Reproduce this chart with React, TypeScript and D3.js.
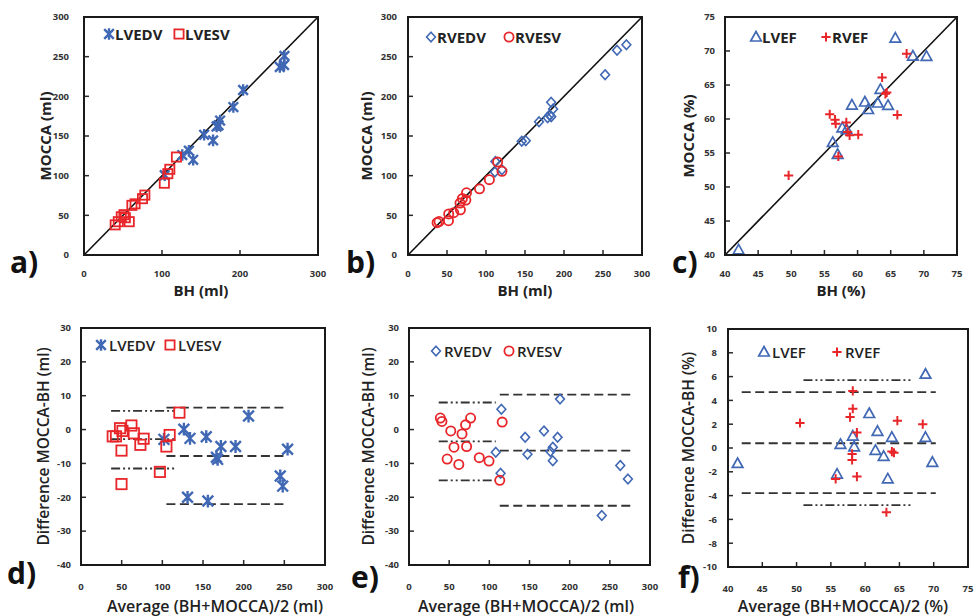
import * as d3 from "d3";

type Pt = [number, number];

// a) LV volumes: BH (x) vs MOCCA (y), ml
const lvedvCorr: Pt[] = [[103.5,100.5],[126,126],[134.5,131.5],[140,120],[154,151.5],[165.5,144.5],[170,162],[172.5,163.5],[174.5,169.5],[191.5,186.5],[204,208],[251,237],[256.5,239.5],[257,251]];
const lvesvCorr: Pt[] = [[40,38],[44,42],[47.8,48.2],[51.2,50.8],[53,47],[58,42],[61.4,62.6],[65.5,64.5],[75,71],[78,75.5],[103,90.5],[107.5,102.5],[110,108],[118.5,123.5]];

// b) RV volumes
const rvedvCorr: Pt[] = [[111.4,104.7],[112,118],[120.5,107.5],[145.8,143.5],[151,144],[168,168],[179,173],[181.6,176.4],[183.6,174.4],[186,184],[183.5,192.5],[252.7,227.3],[268,258],[280,265]];
const rvesvCorr: Pt[] = [[37.3,40.7],[39.8,42.2],[52.2,51.8],[51.9,43.2],[58.6,53.4],[67.2,56.9],[66.7,65.4],[69.7,71.1],[74.2,69.2],[75,78.4],[91.7,83.4],[104.3,95],[120.5,105.5],[114.9,117.1]];

// c) ejection fractions, %
const lvefCorr: Pt[] = [[42.05,40.75],[57,54.8],[56.25,56.55],[57.7,58.7],[58.35,58.45],[59.15,62.05],[61.6,61.4],[61.1,62.5],[63.05,62.35],[64.6,62],[63.45,64.35],[65.7,71.9],[68.35,69.25],[70.4,69.2]];
const rvefCorr: Pt[] = [[49.6,51.7],[55.8,60.7],[56.6,59.9],[56.7,59.3],[57.1,54.5],[58.3,59.5],[58.5,58.1],[58.8,57.6],[60.1,57.7],[63.7,66.1],[64.2,63.7],[64.4,63.9],[66,60.6],[67.4,69.6]];

// d-f) Bland-Altman: average (x) vs difference (y)
const lvedvBA: Pt[] = [[102,-2.9],[126.5,0.1],[134,-2.6],[131,-20],[154,-2.1],[156,-21.1],[166.5,-8.2],[168,-8.8],[172,-5],[190,-5],[206,4],[245,-13.7],[248,-16.7],[254,-5.8]];
const lvesvBA: Pt[] = [[39,-2],[43,-2],[48,0.4],[51,-0.4],[49.8,-6.2],[49.8,-16.1],[62,1.2],[65,-1.1],[73,-4.5],[77,-2.7],[97,-12.5],[105,-5],[109,-1.6],[121,5]];
const rvedvBA: Pt[] = [[108,-6.7],[115,6],[114,-12.9],[144.6,-2.3],[147.5,-7.3],[168,-0.4],[176,-6.5],[179,-5.2],[179,-9.2],[185,-2.3],[188,9],[240,-25.4],[263,-10.6],[272.5,-14.6]];
const rvesvBA: Pt[] = [[39,3.4],[41,2.4],[52,-0.4],[47.5,-8.7],[56,-5.2],[62,-10.3],[66,-1.3],[70.4,1.4],[71.7,-5],[76.7,3.4],[87.5,-8.3],[99.6,-9.3],[113,-15],[116,2.2]];
const lvefBA: Pt[] = [[41.4,-1.3],[55.9,-2.2],[56.4,0.3],[58.2,1],[58.4,0.1],[60.6,2.9],[61.5,-0.2],[61.8,1.4],[62.7,-0.7],[63.3,-2.6],[63.9,0.9],[68.8,6.2],[68.8,0.9],[69.8,-1.2]];
const rvefBA: Pt[] = [[50.5,2.1],[55.7,-2.6],[58.2,4.8],[58.2,3.3],[57.8,2.6],[58.8,1.3],[58.1,-0.5],[58.1,-1],[58.8,-2.4],[63.1,-5.4],[63.9,-0.3],[64.2,-0.4],[64.7,2.3],[68.4,2]];

// mean and limits of agreement, with the x span they are drawn over
const lvedvLimits = [6.5, -7.8, -22];
const lvedvSpan = [105, 252];
const lvesvLimits = [5.5, -2.8, -11.5];
const lvesvSpan = [37, 118];
const rvedvLimits = [10.3, -6.2, -22.5];
const rvedvSpan = [113, 278];
const rvesvLimits = [8, -3.5, -15];
const rvesvSpan = [37, 108];
const lvefLimits = [4.7, 0.4, -3.8];
const lvefSpan = [42, 70.3];
const rvefLimits = [5.7, -4.8];
const rvefSpan = [51, 67];

const volTicks300 = [0, 100, 200, 300];
const volTicks50 = [0, 50, 100, 150, 200, 250, 300];
const efTicks = [40, 45, 50, 55, 60, 65, 70, 75];
const diffTicks = [-40, -30, -20, -10, 0, 10, 20, 30];
const efDiffTicks = [-10, -8, -6, -4, -2, 0, 2, 4, 6, 8, 10];

const BLUE = "#4068b4";
const RED = "#e8262a";
const INK = "#2a2a2a";
const FONT = "'Open Sans', sans-serif";
const DASH = "9,4.5";
const DASHDOT = "9,3,2,3,2,3";

let Marker = ({ kind, x, y, color, size = 1 }) => {
	if (kind === "asterisk") {
		let s = 4.8 * size;
		return (
			<path
				d={`M${x - s},${y - s}L${x + s},${y + s}M${x - s},${y + s}L${x + s},${y - s}M${x},${y - s - 1}L${x},${y + s + 1}`}
				stroke={color}
				strokeWidth={2.4}
				fill="none"
			/>
		);
	}
	if (kind === "square") {
		let h = 4.6 * size;
		return <rect x={x - h} y={y - h} width={2 * h} height={2 * h} fill="none" stroke={color} strokeWidth={1.8} />;
	}
	if (kind === "diamond")
		return <path d={`M${x},${y - 4.8}L${x + 4.4},${y}L${x},${y + 4.8}L${x - 4.4},${y}Z`} fill="none" stroke={color} strokeWidth={1.6} />;
	if (kind === "circle") return <circle cx={x} cy={y} r={4.6} fill="none" stroke={color} strokeWidth={1.8} />;
	if (kind === "triangle")
		return <path d={`M${x},${y - 5.5}L${x + 5.3},${y + 4}L${x - 5.3},${y + 4}Z`} fill="none" stroke={color} strokeWidth={1.7} />;
	// cross
	return <path d={`M${x - 4.6},${y}L${x + 4.6},${y}M${x},${y - 4.6}L${x},${y + 4.6}`} stroke={color} strokeWidth={2} fill="none" />;
};

let Panel = ({ p }) => {
	let { box } = p;
	let xScale = d3.scaleLinear().domain(p.xDomain).range([box.x0, box.x1]);
	let yScale = d3.scaleLinear().domain(p.yDomain).range([box.y1, box.y0]);
	let top = p.row === 0;
	let markSize = top ? 1 : 1.12;
	let identity = d3.line<number>()
		.x((d) => xScale(d))
		.y((d) => yScale(d));

	return (
		<g fontFamily={FONT}>
			{/* inner ticks */}
			{p.xTicks.map((t) => (
				<line key={"xt" + t} x1={xScale(t)} x2={xScale(t)} y1={box.y1} y2={box.y1 - 5} stroke={INK} strokeWidth={1.5} />
			))}
			{p.yTicks.map((t) => (
				<line key={"yt" + t} x1={box.x0} x2={box.x0 + 5} y1={yScale(t)} y2={yScale(t)} stroke={INK} strokeWidth={1.5} />
			))}
			{p.xTicks.map((t) => (
				<text key={"xl" + t} x={xScale(t)} y={box.y1 + (top ? 22 : 25)} textAnchor="middle" fontSize={9.5} fontWeight={700} fill="#333">
					{t}
				</text>
			))}
			{p.yTicks.map((t) => (
				<text key={"yl" + t} x={box.x0 - p.yLabelGap} y={yScale(t)} dy="0.35em" textAnchor="end" fontSize={9.5} fontWeight={700} fill="#333">
					{t}
				</text>
			))}

			{p.identity && (
				<path d={identity(p.xDomain)} stroke="#111" strokeWidth={1.6} fill="none" />
			)}

			{p.limits.map((l, i) =>
				l.values.map((v) => (
					<line
						key={"lim" + i + v}
						x1={xScale(l.span[0])}
						x2={xScale(l.span[1])}
						y1={yScale(v)}
						y2={yScale(v)}
						stroke="#333"
						strokeWidth={1.8}
						strokeDasharray={l.dash}
					/>
				))
			)}

			{p.series.map((s, i) => (
				<g key={"s" + i}>
					{s.data.map((d, j) => (
						<Marker key={j} kind={s.marker} x={xScale(d[0])} y={yScale(d[1])} color={s.color} size={markSize} />
					))}
				</g>
			))}

			<rect x={box.x0} y={box.y0} width={box.x1 - box.x0} height={box.y1 - box.y0} fill="none" stroke="#1a1a1a" strokeWidth={2} />

			{/* legend */}
			{p.series.map((s, i) => (
				<g key={"lg" + i}>
					<Marker kind={s.marker} x={box.x0 + s.legendX} y={box.y0 + p.legendY} color={s.color} />
					<text
						x={box.x0 + s.legendX + (top ? 6 : 8)}
						y={box.y0 + p.legendY + 5.5}
						fontSize={15}
						fontWeight={top ? 700 : 600}
						fill="#222"
					>
						{s.name}
					</text>
				</g>
			))}

			<text x={p.xTitleX} y={top ? 296 : 612} textAnchor="middle" fontSize={top ? 15 : 16} fontWeight={top ? 700 : 600} fill="#222">
				{p.xTitle}
			</text>
			<text
				transform={`translate(${box.x0 - p.yTitleGap},${(box.y0 + box.y1) / 2}) rotate(-90)`}
				dy="0.35em"
				textAnchor="middle"
				fontSize={top ? 15 : 15.5}
				fontWeight={top ? 700 : 600}
				fill="#222"
			>
				{p.yTitle}
			</text>
			<text x={p.letterX} y={p.letterY} fontSize={30} fontWeight={700} fill="#111">
				{p.letter}
			</text>
		</g>
	);
};

const panels = [
	{
		row: 0, letter: "a)", letterX: 10, letterY: 273,
		box: { x0: 84, x1: 318, y0: 17, y1: 255 },
		xDomain: [0, 300], yDomain: [0, 300], xTicks: volTicks300, yTicks: volTicks50,
		yLabelGap: 15, yTitleGap: 38, xTitleX: 201, legendY: 17,
		xTitle: "BH (ml)", yTitle: "MOCCA (ml)", identity: true, limits: [],
		series: [
			{ name: "LVEDV", data: lvedvCorr, marker: "asterisk", color: BLUE, legendX: 25 },
			{ name: "LVESV", data: lvesvCorr, marker: "square", color: RED, legendX: 95 },
		],
	},
	{
		row: 0, letter: "b)", letterX: 346, letterY: 273,
		box: { x0: 408, x1: 642, y0: 17, y1: 255 },
		xDomain: [0, 300], yDomain: [0, 300], xTicks: volTicks50, yTicks: volTicks50,
		yLabelGap: 11, yTitleGap: 41, xTitleX: 525, legendY: 20,
		xTitle: "BH (ml)", yTitle: "MOCCA (ml)", identity: true, limits: [],
		series: [
			{ name: "RVEDV", data: rvedvCorr, marker: "diamond", color: BLUE, legendX: 23 },
			{ name: "RVESV", data: rvesvCorr, marker: "circle", color: RED, legendX: 101 },
		],
	},
	{
		row: 0, letter: "c)", letterX: 672, letterY: 273,
		box: { x0: 725, x1: 957, y0: 17, y1: 255 },
		xDomain: [40, 75], yDomain: [40, 75], xTicks: efTicks, yTicks: efTicks,
		yLabelGap: 10, yTitleGap: 36, xTitleX: 841, legendY: 20,
		xTitle: "BH (%)", yTitle: "MOCCA (%)", identity: true, limits: [],
		series: [
			{ name: "LVEF", data: lvefCorr, marker: "triangle", color: BLUE, legendX: 31 },
			{ name: "RVEF", data: rvefCorr, marker: "cross", color: RED, legendX: 101 },
		],
	},
	{
		row: 1, letter: "d)", letterX: 7, letterY: 584,
		box: { x0: 81, x1: 325, y0: 328, y1: 565 },
		xDomain: [0, 300], yDomain: [-40, 30], xTicks: volTicks50, yTicks: diffTicks,
		yLabelGap: 10, yTitleGap: 37, xTitleX: 215, legendY: 17,
		xTitle: "Average (BH+MOCCA)/2 (ml)", yTitle: "Difference MOCCA-BH (ml)",
		identity: false,
		limits: [
			{ values: lvesvLimits, span: lvesvSpan, dash: DASHDOT },
			{ values: lvedvLimits, span: lvedvSpan, dash: DASH },
		],
		series: [
			{ name: "LVEDV", data: lvedvBA, marker: "asterisk", color: BLUE, legendX: 20 },
			{ name: "LVESV", data: lvesvBA, marker: "square", color: RED, legendX: 89 },
		],
	},
	{
		row: 1, letter: "e)", letterX: 351, letterY: 588,
		box: { x0: 409, x1: 650, y0: 328, y1: 565 },
		xDomain: [0, 300], yDomain: [-40, 30], xTicks: volTicks50, yTicks: diffTicks,
		yLabelGap: 10, yTitleGap: 40, xTitleX: 526, legendY: 23,
		xTitle: "Average (BH+MOCCA)/2 (ml)", yTitle: "Difference MOCCA-BH (ml)",
		identity: false,
		limits: [
			{ values: rvesvLimits, span: rvesvSpan, dash: DASHDOT },
			{ values: rvedvLimits, span: rvedvSpan, dash: DASH },
		],
		series: [
			{ name: "RVEDV", data: rvedvBA, marker: "diamond", color: BLUE, legendX: 27 },
			{ name: "RVESV", data: rvesvBA, marker: "circle", color: RED, legendX: 100 },
		],
	},
	{
		row: 1, letter: "f)", letterX: 678, letterY: 588,
		box: { x0: 728, x1: 968, y0: 329, y1: 567 },
		xDomain: [40, 75], yDomain: [-10, 10], xTicks: efTicks, yTicks: efDiffTicks,
		yLabelGap: 11, yTitleGap: 39, xTitleX: 843, legendY: 23,
		xTitle: "Average (BH+MOCCA)/2 (%)", yTitle: "Difference MOCCA-BH (%)",
		identity: false,
		limits: [
			{ values: lvefLimits, span: lvefSpan, dash: DASH },
			{ values: rvefLimits, span: rvefSpan, dash: DASHDOT },
		],
		series: [
			{ name: "LVEF", data: lvefBA, marker: "triangle", color: BLUE, legendX: 36 },
			{ name: "RVEF", data: rvefBA, marker: "cross", color: RED, legendX: 109 },
		],
	},
];

export default function App() {
	return (
		<svg width={975} height={616} style={{ position: "absolute", left: 0, top: 0, background: "#fff" }}>
			<rect width={975} height={616} fill="#fff" />
			{panels.map((p) => (
				<Panel key={p.letter} p={p} />
			))}
		</svg>
	);
}
